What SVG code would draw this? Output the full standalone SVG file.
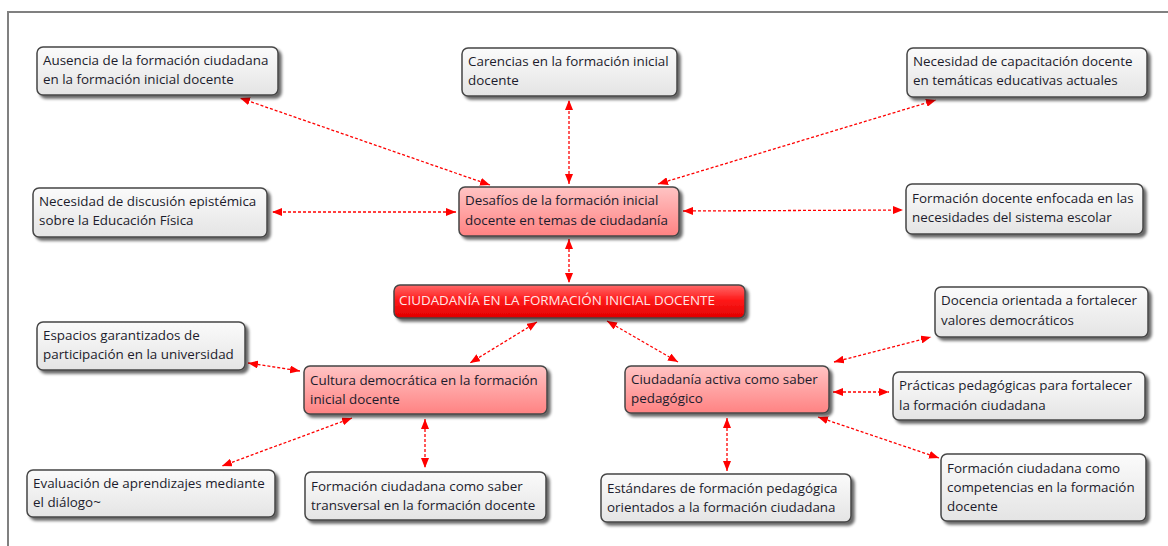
<svg xmlns="http://www.w3.org/2000/svg" width="1168" height="546" viewBox="0 0 1168 546">
<defs>
<linearGradient id="gW" x1="0" y1="0" x2="0" y2="1"><stop offset="0" stop-color="#fbfbfb"/><stop offset="1" stop-color="#e4e4e4"/></linearGradient>
<linearGradient id="gP" x1="0" y1="0" x2="0" y2="1"><stop offset="0" stop-color="#ffc4c4"/><stop offset="1" stop-color="#ff8282"/></linearGradient>
<linearGradient id="gR" x1="0" y1="0" x2="0" y2="1"><stop offset="0" stop-color="#ff6a6a"/><stop offset="0.45" stop-color="#ff1a1a"/><stop offset="1" stop-color="#e00000"/></linearGradient>
<filter id="sh" x="-10%" y="-20%" width="130%" height="160%"><feGaussianBlur in="SourceAlpha" stdDeviation="1.5"/><feOffset dx="3" dy="3" result="b"/><feComponentTransfer><feFuncA type="linear" slope="0.6"/></feComponentTransfer><feMerge><feMergeNode/><feMergeNode in="SourceGraphic"/></feMerge></filter>
<marker id="ah" viewBox="0 0 10 8" refX="10" refY="4" markerWidth="10" markerHeight="8" markerUnits="userSpaceOnUse" orient="auto-start-reverse"><path d="M0,0 L10,4 L0,8 z" fill="#ff0000"/></marker>
</defs>
<style>
.box{stroke:#464646;stroke-width:1.5;filter:url(#sh)}
.w{fill:url(#gW)}
.p{fill:url(#gP)}
.r{fill:url(#gR)}
text{font-family:"Open Sans","Noto Sans",sans-serif;font-size:13.4px;fill:#1c1c2c}
.wt{fill:#ffe6e6}
.c line{stroke:#ff0000;stroke-width:1.3;stroke-dasharray:3 2;marker-start:url(#ah);marker-end:url(#ah)}
</style>
<rect width="1168" height="546" fill="#ffffff"/>
<path d="M8,546 V12 H1168" fill="none" stroke="#808080" stroke-width="2"/>
<g class="c" id="connectors">
<line x1="490" y1="185" x2="240" y2="98"/>
<line x1="569" y1="184" x2="569" y2="100"/>
<line x1="658" y1="184" x2="936" y2="100"/>
<line x1="456" y1="212" x2="272" y2="212"/>
<line x1="683" y1="211" x2="903" y2="210"/>
<line x1="569" y1="239" x2="569" y2="283"/>
<line x1="537" y1="322" x2="470" y2="363"/>
<line x1="607" y1="321" x2="678" y2="362"/>
<line x1="300" y1="371" x2="248" y2="363"/>
<line x1="352" y1="418" x2="222" y2="466"/>
<line x1="425" y1="419" x2="425" y2="468"/>
<line x1="834" y1="362" x2="931" y2="337"/>
<line x1="833" y1="392" x2="889" y2="392"/>
<line x1="818" y1="417" x2="939" y2="458"/>
<line x1="727" y1="418" x2="727" y2="471"/>
</g>
<g id="n1"><rect class="box w" x="37" y="47" width="241" height="48" rx="6"/><text x="43" y="65">Ausencia de la formación ciudadana</text><text x="43" y="84">en la formación inicial docente</text></g>
<g id="n2"><rect class="box w" x="462" y="48" width="215" height="48" rx="6"/><text x="468" y="66">Carencias en la formación inicial</text><text x="468" y="85">docente</text></g>
<g id="n3"><rect class="box w" x="907" y="48" width="240" height="49" rx="6"/><text x="913" y="66">Necesidad de capacitación docente</text><text x="913" y="85">en temáticas educativas actuales</text></g>
<g id="n4"><rect class="box w" x="33" y="188" width="234" height="49" rx="6"/><text x="39" y="206">Necesidad de discusión epistémica</text><text x="39" y="225">sobre la Educación Física</text></g>
<g id="n5"><rect class="box p" x="459" y="187" width="220" height="49" rx="6"/><text x="465" y="205">Desafíos de la formación inicial</text><text x="465" y="225">docente en temas de ciudadanía</text></g>
<g id="n6"><rect class="box w" x="906" y="184" width="237" height="50" rx="6"/><text x="912" y="203">Formación docente enfocada en las</text><text x="912" y="222">necesidades del sistema escolar</text></g>
<g id="n7"><rect class="box r" x="394" y="285" width="351" height="33" rx="6"/><text class="wt" x="399" y="305">CIUDADANÍA EN LA FORMACIÓN INICIAL DOCENTE</text></g>
<g id="n8"><rect class="box w" x="37" y="322" width="208" height="48" rx="6"/><text x="43" y="340">Espacios garantizados de</text><text x="43" y="359">participación en la universidad</text></g>
<g id="n9"><rect class="box p" x="304" y="366" width="243" height="48" rx="6"/><text x="310" y="385">Cultura democrática en la formación</text><text x="310" y="404">inicial docente</text></g>
<g id="n10"><rect class="box p" x="625" y="366" width="204" height="47" rx="6"/><text x="631" y="384">Ciudadanía activa como saber</text><text x="631" y="403">pedagógico</text></g>
<g id="n11"><rect class="box w" x="935" y="287" width="213" height="50" rx="6"/><text x="941" y="305">Docencia orientada a fortalecer</text><text x="941" y="325">valores democráticos</text></g>
<g id="n12"><rect class="box w" x="893" y="372" width="252" height="48" rx="6"/><text x="899" y="390">Prácticas pedagógicas para fortalecer</text><text x="899" y="410">la formación ciudadana</text></g>
<g id="n13"><rect class="box w" x="941" y="454" width="205" height="67" rx="6"/><text x="947" y="473">Formación ciudadana como</text><text x="947" y="492">competencias en la formación</text><text x="947" y="511">docente</text></g>
<g id="n14"><rect class="box w" x="27" y="470" width="248" height="47" rx="6"/><text x="33" y="488">Evaluación de aprendizajes mediante</text><text x="33" y="507">el diálogo~</text></g>
<g id="n15"><rect class="box w" x="305" y="472" width="241" height="48" rx="6"/><text x="311" y="491">Formación ciudadana como saber</text><text x="311" y="510">transversal en la formación docente</text></g>
<g id="n16"><rect class="box w" x="601" y="474" width="250" height="48" rx="6"/><text x="607" y="493">Estándares de formación pedagógica</text><text x="607" y="512">orientados a la formación ciudadana</text></g>
</svg>
